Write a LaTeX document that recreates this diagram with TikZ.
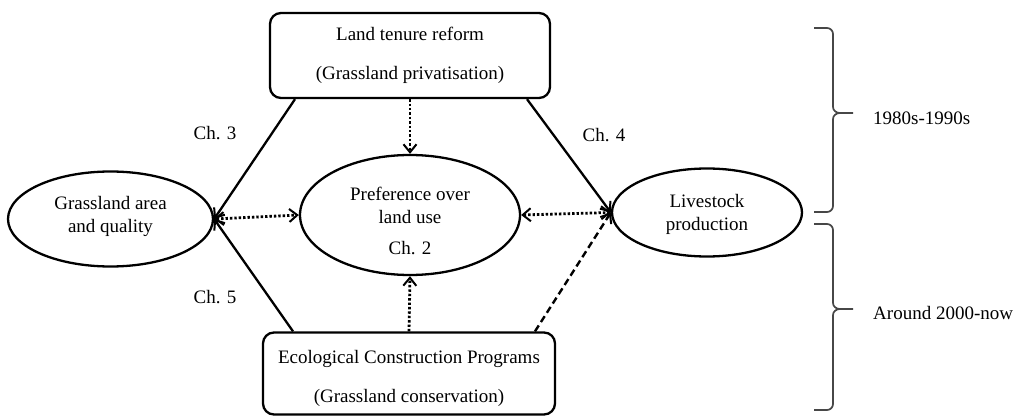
\documentclass[tikz,border=0pt]{standalone}
\usepackage{fontspec}
\setmainfont{Liberation Serif}
\usetikzlibrary{arrows.meta,shapes.geometric}
\begin{document}
\begin{tikzpicture}[x=1pt,y=-1pt,
  every node/.style={font=\fontsize{19}{23}\selectfont, inner sep=0pt},
  boxnode/.style={draw, line width=2.3pt, rounded corners=11pt, align=center},
  ellnode/.style={draw, ellipse, line width=2.3pt, align=center},
  txt/.style={align=center},
  lbl/.style={anchor=center},
  tip/.style={-{Straight Barb[length=8pt,width=13pt,line width=2pt]}},
  dtip/.style={{Straight Barb[length=8pt,width=13pt,line width=2pt]}-{Straight Barb[length=8pt,width=13pt,line width=2pt]}},
  solidlink/.style={line width=2.3pt, tip},
  dotlink/.style={line width=2.8pt, dash pattern=on 2.4pt off 2pt},
  dashlink/.style={line width=2.4pt, dash pattern=on 7pt off 4pt, tip},
  bracestyle/.style={line width=1.7pt, black!72},
]
\useasboundingbox (0,0) rectangle (1020,417);

% nodes
\node[boxnode, minimum width=280pt, minimum height=85pt] (top) at (410,55.5)
  {Land tenure reform\\[16pt](Grassland privatisation)};
\node[boxnode, minimum width=292pt, minimum height=82pt] (bot) at (409,373.5) {};
\node[txt] (bottxt) at (409,378) {Ecological Construction Programs\\[16pt](Grassland conservation)};
\node[ellnode, minimum width=205pt, minimum height=95pt] (left) at (110.5,219) {};
\node[txt] (lefttxt) at (110.5,216) {Grassland area\\and quality};
\node[ellnode, minimum width=220pt, minimum height=120pt] (mid) at (410,215) {};
\node[txt] (midtxt) at (410,221) {Preference over\\land use\\[8pt]Ch. 2};
\node[ellnode, minimum width=190pt, minimum height=88pt] (right) at (707,212.5) {};
\node[txt] (righttxt) at (707,214) {Livestock\\production};

% chapter labels
\node[lbl] (c3) at (215,133) {Ch. 3};
\node[lbl] (c4) at (604,135) {Ch. 4};
\node[lbl] (c5) at (215,297) {Ch. 5};

% connectors
\draw[solidlink] ([xshift=-115pt]top.south) -- (left.east);
\draw[solidlink] ([xshift=-116pt]bot.north) -- (left.east);
\draw[solidlink] ([xshift=117pt]top.south) -- (right.west);
\draw[dashlink] ([xshift=126pt]bot.north) -- (right.west);
\draw[dotlink, tip] (top.south) -- (mid.north);
\draw[dotlink, tip] (bot.north) -- (mid.south);
\draw[dotlink, dtip] (left.east) -- (mid.west);
\draw[dotlink, dtip] (mid.east) -- (right.west);

% braces
\draw[bracestyle] (814,28) -- (827,28) to[out=0,in=90] (833,34) -- (833,107)
  to[out=-90,in=180] (840,113) -- (853,113);
\draw[bracestyle] (840,113) to[out=180,in=90] (833,119) -- (833,206)
  to[out=-90,in=0] (827,212) -- (814,212);
\draw[bracestyle] (814,224) -- (827,224) to[out=0,in=90] (833,230) -- (833,303)
  to[out=-90,in=180] (840,309) -- (853,309);
\draw[bracestyle] (840,309) to[out=180,in=90] (833,315) -- (833,404)
  to[out=-90,in=0] (827,410) -- (814,410);

\node[anchor=west] (p1) at (873,118) {1980s-1990s};
\node[anchor=west] (p2) at (873,313) {Around 2000-now};
\end{tikzpicture}
\end{document}
